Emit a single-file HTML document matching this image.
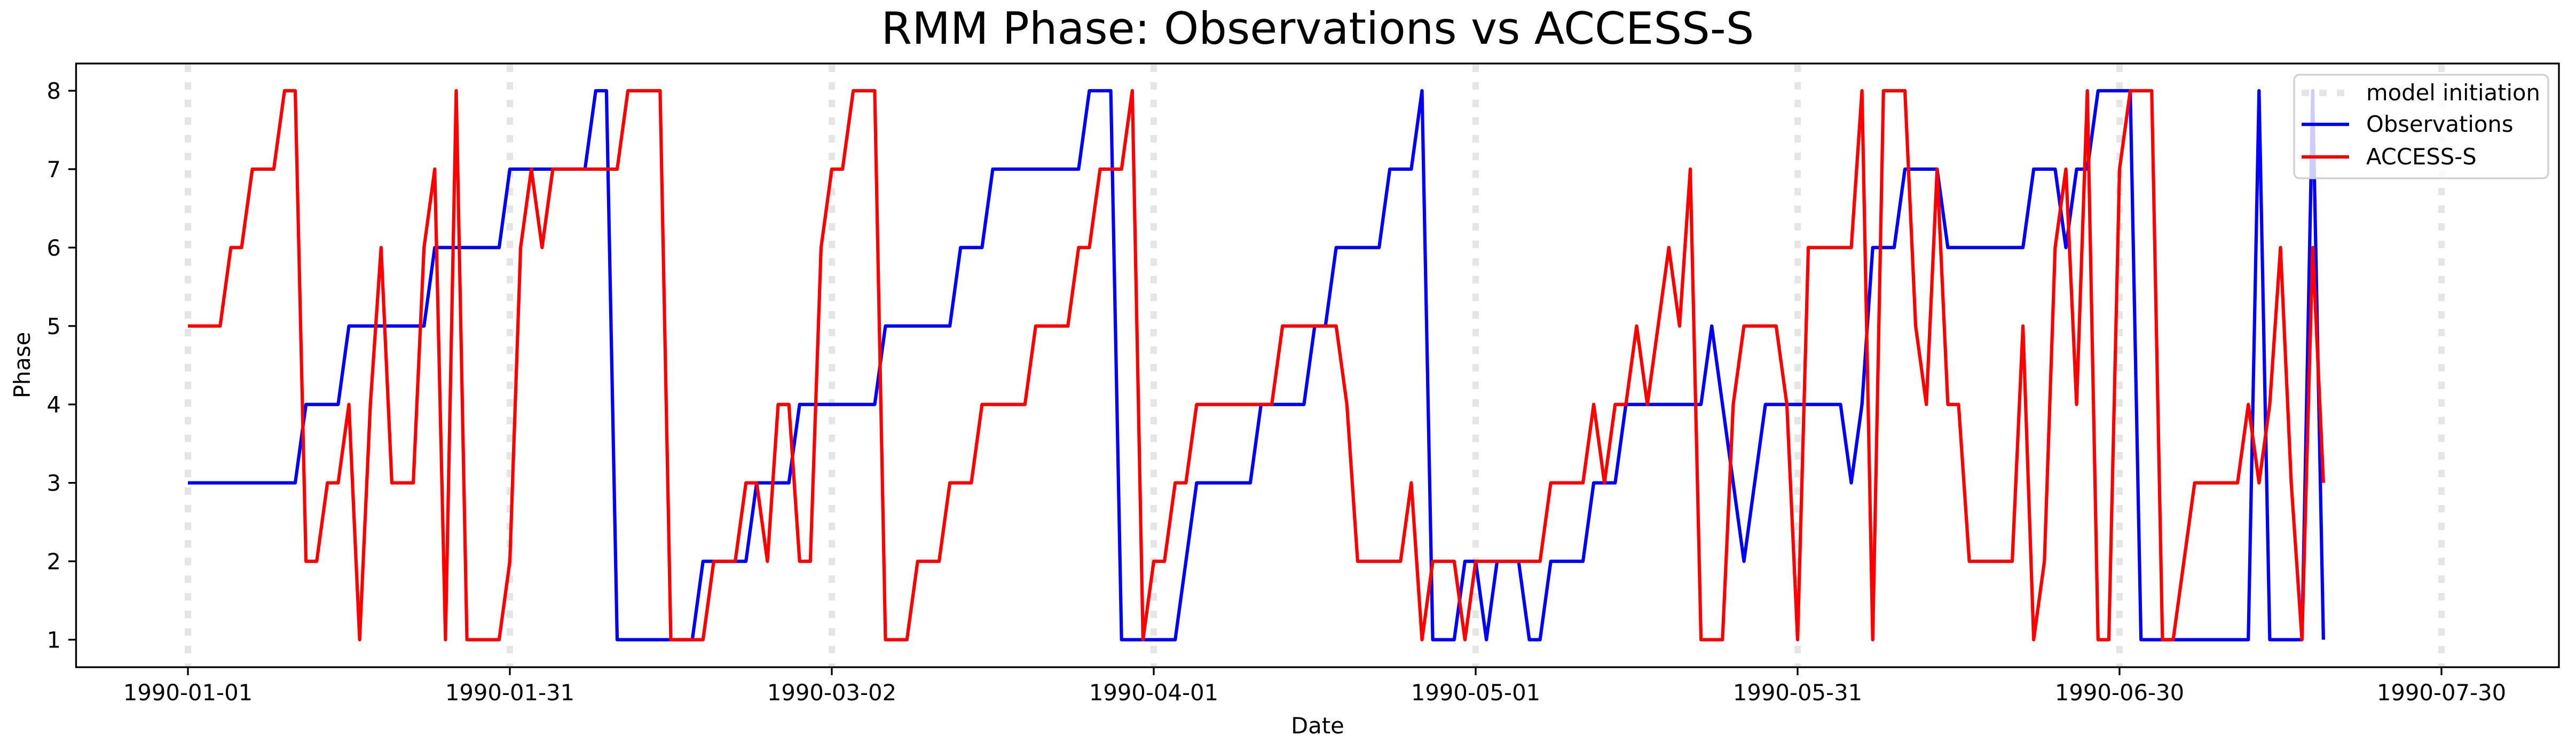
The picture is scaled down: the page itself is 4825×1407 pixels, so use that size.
<!DOCTYPE html>
<html><head><meta charset="utf-8"><style>
html,body{margin:0;padding:0;background:#fff;}
svg{display:block;font-family:"DejaVu Sans","Liberation Sans",sans-serif;}
</style></head><body>
<svg id="chart" width="4825" height="1407" viewBox="0 0 4825 1407" xmlns="http://www.w3.org/2000/svg">
<rect x="0" y="0" width="4825" height="1407" fill="#fff"/>
<text x="2468" y="82" font-size="83" text-anchor="middle">RMM Phase: Observations vs ACCESS-S</text>
<g id="vlines"></g>
<g id="series"></g>
<rect x="142.5" y="119" width="4650.5" height="1131" fill="none" stroke="#000" stroke-width="3.3"/>
<g id="yaxis"></g>
<g id="xaxis"></g>
<text transform="translate(56,684) rotate(-90)" font-size="41.7" text-anchor="middle">Phase</text>
<text x="2468" y="1374" font-size="41.7" text-anchor="middle">Date</text>
<g>
<rect x="4297" y="140" width="476" height="194" rx="10" fill="#fff" fill-opacity="0.8" stroke="#d0d0d0" stroke-width="3.3"/>
<line x1="4311" y1="174" x2="4400" y2="174" stroke="#e5e5e5" stroke-width="12" stroke-dasharray="14,19"/>
<text x="4432" y="188" font-size="41.7">model initiation</text>
<line x1="4311" y1="233" x2="4400" y2="233" stroke="#0000ff" stroke-width="6.25"/>
<text x="4432" y="247" font-size="41.7">Observations</text>
<line x1="4311" y1="294" x2="4400" y2="294" stroke="#ff0000" stroke-width="6.25"/>
<text x="4432" y="308" font-size="41.7">ACCESS-S</text>
</g>
</svg>
<script>
const obs = [3,3,3,3,3,3,3,3,3,3,3,4,4,4,4,5,5,5,5,5,5,5,5,6,6,6,6,6,6,6,7,7,7,7,7,7,7,7,8,8,
1,1,1,1,1,1,1,1,2,2,2,2,2,3,3,3,3,4,4,4,4,4,4,4,4,5,5,5,5,5,5,5,6,6,6,7,7,7,7,7,
7,7,7,7,8,8,8,1,1,1,1,1,1,2,3,3,3,3,3,3,4,4,4,4,4,5,5,6,6,6,6,6,7,7,7,8,1,1,1,2,
2,1,2,2,2,1,1,2,2,2,2,3,3,3,4,4,4,4,4,4,4,4,5,4,3,2,3,4,4,4,4,4,4,4,4,3,4,6,6,6,
7,7,7,7,6,6,6,6,6,6,6,6,7,7,7,6,7,7,8,8,8,8,1,1,1,1,1,1,1,1,1,1,1,8,1,1,1,1,8,1];
const acc = [5,5,5,5,6,6,7,7,7,8,8,2,2,3,3,4,1,4,6,3,3,3,6,7,1,8,1,1,1,1,2,6,7,6,7,7,7,7,7,7,
7,8,8,8,8,1,1,1,1,2,2,2,3,3,2,4,4,2,2,6,7,7,8,8,8,1,1,1,2,2,2,3,3,3,4,4,4,4,4,5,
5,5,5,6,6,7,7,7,8,1,2,2,3,3,4,4,4,4,4,4,4,4,5,5,5,5,5,5,4,2,2,2,2,2,3,1,2,2,2,1,
2,2,2,2,2,2,2,3,3,3,3,4,3,4,4,5,4,5,6,5,7,1,1,1,4,5,5,5,5,4,1,6,6,6,6,6,8,1,8,8,
8,5,4,7,4,4,2,2,2,2,2,5,1,2,6,7,4,8,1,1,7,8,8,8,1,1,2,3,3,3,3,3,4,3,4,6,3,1,6,3];
const initDays = [0,30,60,90,120,150,180,210];
const xTickDays = [0,30,60,90,120,150,180,210];
const xTickLabels = ["1990-01-01","1990-01-31","1990-03-02","1990-04-01","1990-05-01","1990-05-31","1990-06-30","1990-07-30"];
const yTicks = [1,2,3,4,5,6,7,8];

const NS = "http://www.w3.org/2000/svg";
function xs(d){ return 352 + 20.1*d; }
function ys(v){ return 1198.5 - (v-1)*146.93; }
function mk(tag, attrs, parent){
  const el = document.createElementNS(NS, tag);
  for (const k in attrs) el.setAttribute(k, attrs[k]);
  parent.appendChild(el);
  return el;
}
const vg = document.getElementById('vlines');
initDays.forEach(function(d){
  const l = mk('line', {x1:xs(d), x2:xs(d), y1:121, y2:1248, stroke:'#e5e5e5', 'stroke-width':12, 'stroke-dasharray':'14,19'}, vg);
  
  
});
const sg = document.getElementById('series');
function pts(arr){ return arr.map(function(v,i){ return xs(i).toFixed(1)+','+ys(v).toFixed(1); }).join(' '); }
const po = mk('polyline', {points:pts(obs), fill:'none', stroke:'#0000ff', 'stroke-width':6.25, 'stroke-linejoin':'round'}, sg);


const pa = mk('polyline', {points:pts(acc), fill:'none', stroke:'#ff0000', 'stroke-width':6.25, 'stroke-linejoin':'round'}, sg);



const ya = document.getElementById('yaxis');
yTicks.forEach(function(v){
  const t = mk('line', {x1:128, x2:142.5, y1:ys(v), y2:ys(v), stroke:'#000', 'stroke-width':3.3}, ya);
  
  
  const tx = mk('text', {x:114, y:ys(v)+15, 'font-size':41.7, 'text-anchor':'end'}, ya);
  tx.textContent = String(v);
  
  
});
const xa = document.getElementById('xaxis');
xTickDays.forEach(function(d,i){
  const t = mk('line', {x1:xs(d), x2:xs(d), y1:1250, y2:1265, stroke:'#000', 'stroke-width':3.3}, xa);
  
  
  const tx = mk('text', {x:xs(d), y:1312, 'font-size':41.7, 'text-anchor':'middle'}, xa);
  tx.textContent = xTickLabels[i];
  
  
});
</script>
</body></html>
